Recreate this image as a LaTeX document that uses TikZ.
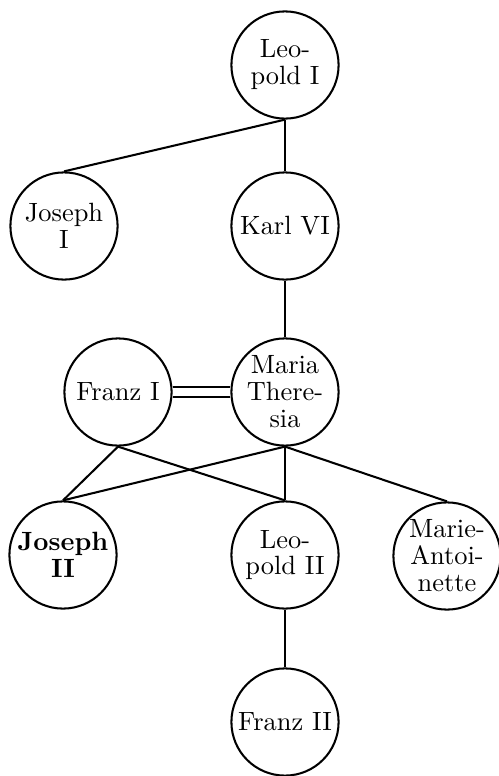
\documentclass[tikz,border=0pt]{standalone}
\begin{document}
\begin{tikzpicture}[x=0.39pt,y=-0.39pt,
  person/.style={circle,draw,line width=0.8pt,minimum size=41.8pt,inner sep=0pt,align=center,font=\fontsize{10.3}{10.5}\selectfont},
  link/.style={line width=0.8pt}]
\useasboundingbox (0,0) rectangle (499,776);
\node[person] (L1) at (285,65) {Leo-\\pold I};
\node[person] (J1) at (64,226) {Joseph\\I};
\node[person] (K6) at (285,226) {Karl VI};
\node[person] (F1) at (118,392) {Franz I};
\node[person] (MT) at (285,392) {Maria\\There-\\sia};
\node[person] (J2) at (63,555) {\textbf{Joseph}\\\textbf{II}};
\node[person] (L2) at (285,555) {Leo-\\pold II};
\node[person] (MA) at (447,556) {Marie-\\Antoi-\\nette};
\node[person] (F2) at (285,722) {Franz II};
\draw[link] (L1.south) -- (J1.north);
\draw[link] (L1.south) -- (K6.north);
\draw[link] (K6.south) -- (MT.north);
\draw[link,double,double distance=3pt] (F1.east) -- (MT.west);
\draw[link] (F1.south) -- (J2.north);
\draw[link] (F1.south) -- (L2.north);
\draw[link] (MT.south) -- (J2.north);
\draw[link] (MT.south) -- (L2.north);
\draw[link] (MT.south) -- (MA.north);
\draw[link] (L2.south) -- (F2.north);
\end{tikzpicture}
\end{document}
